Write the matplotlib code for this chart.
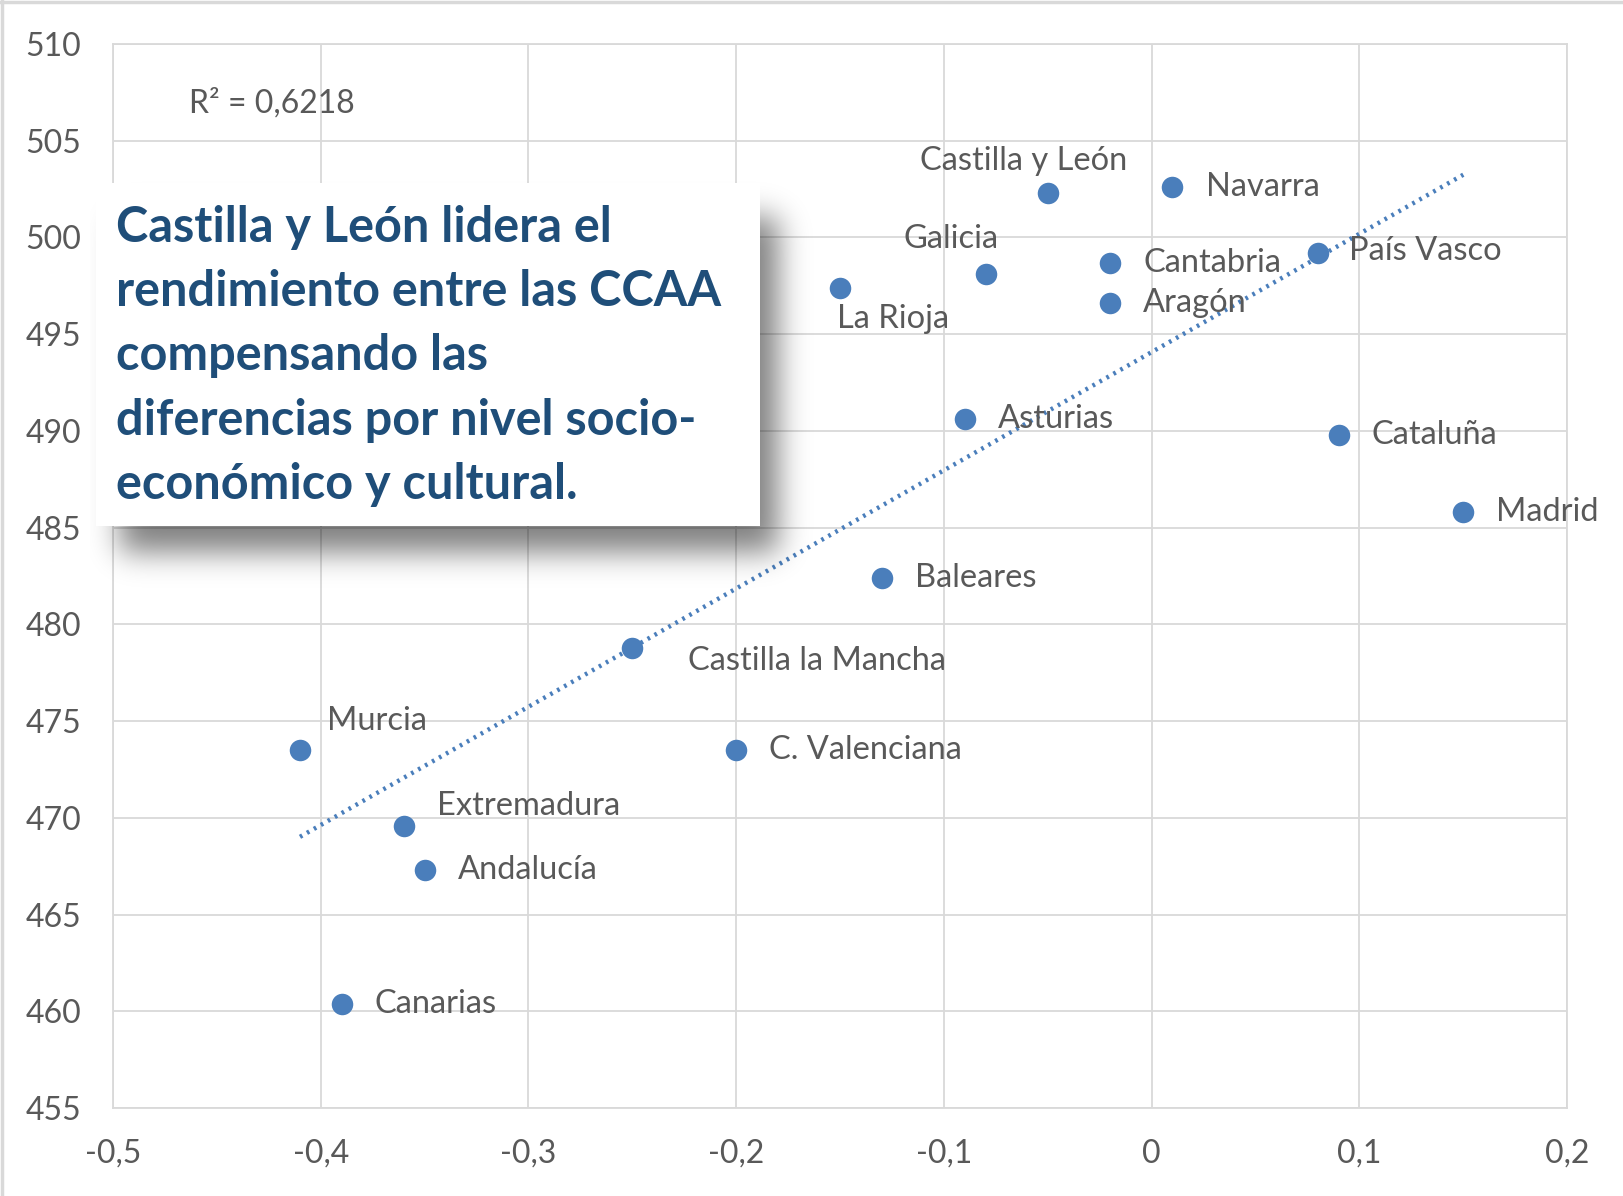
import math
import matplotlib.pyplot as plt
import numpy as np
from matplotlib.patches import Rectangle
from matplotlib.lines import Line2D
from matplotlib.ticker import FuncFormatter

plt.rcParams['font.family'] = ['Lato', 'DejaVu Sans']

regiones = ['Castilla y León', 'Navarra', 'Cantabria', 'Aragón', 'País Vasco',
            'Galicia', 'La Rioja', 'Asturias', 'Cataluña', 'Madrid', 'Baleares',
            'Castilla la Mancha', 'Murcia', 'C. Valenciana', 'Extremadura',
            'Andalucía', 'Canarias']
isec = [-0.05, 0.01, -0.02, -0.02, 0.08, -0.08, -0.15, -0.09, 0.09, 0.15, -0.13,
        -0.25, -0.41, -0.20, -0.36, -0.35, -0.39]
puntos = [502.3, 502.6, 498.7, 496.6, 499.2, 498.1, 497.4, 490.6, 489.8, 485.8,
          482.4, 478.8, 473.5, 473.5, 469.6, 467.3, 460.4]
r2_text = 'R² = 0,6218'
callout = ('Castilla y León lidera el\nrendimiento entre las CCAA\ncompensando las\n'
           'diferencias por nivel socio-\neconómico y cultural.')

# label placement (pixel offsets, alignment)
offsets = {
    'Castilla y León': (-23, 31, 'center'), 'Galicia': (-33, 34, 'center'),
    'La Rioja': (-3, -30, 'left'), 'Castilla la Mancha': (54, -13, 'left'),
    'Murcia': (26, 28, 'left'), 'Extremadura': (32, 19, 'left'),
    'País Vasco': (30, 2, 'left'),
}

blue = '#4A7EBB'
grey_txt = '#595959'
grid_c = '#D9D9D9'

W, H = 1624, 1196
fig = plt.figure(figsize=(W / 100, H / 100), dpi=100)
ax = fig.add_axes([0.0696, 0.0736, 0.8954, 0.8897])

ax.scatter(isec, puntos, s=240, color=blue, zorder=3, linewidths=0)

# linear trend line
m, b = np.polyfit(isec, puntos, 1)
xl = np.array([min(isec), max(isec)])
ax.plot(xl, m * xl + b, linestyle=(0, (0.6, 1.2)), color=blue, lw=3.2, zorder=2)

for name, x, y in zip(regiones, isec, puntos):
    dx, dy, ha = offsets.get(name, (32, 0, 'left'))
    ax.annotate(name, (x, y), xytext=(dx * 1.036, dy * 1.036), textcoords='offset pixels',
                ha=ha, va='center', fontsize=23.5, color=grey_txt, zorder=4)

ax.text(0.052, 0.944, r2_text, transform=ax.transAxes, fontsize=23, color=grey_txt,
        ha='left', va='center')

ax.set_xlim(-0.5, 0.2)
ax.set_ylim(455, 510)
ax.set_xticks(np.arange(-0.5, 0.21, 0.1))
ax.set_yticks(np.arange(455, 511, 5))
ax.xaxis.set_major_formatter(FuncFormatter(lambda v, p: ('%.1f' % v).replace('.', ',').replace('-0,0', '0').replace('0,0', '0')))
ax.grid(True, color=grid_c, lw=1.3, zorder=0)
ax.set_axisbelow(True)
for s in ax.spines.values():
    s.set_color(grid_c)
    s.set_linewidth(1.3)
ax.tick_params(length=0, labelsize=23, labelcolor=grey_txt)
ax.tick_params(axis='y', pad=23)
ax.tick_params(axis='x', pad=22)

# callout box (pixel coords, top origin) with blurred shadow
bx0, by0, bx1, by1 = 96, 183, 760, 526
sx0, sy0, sx1, sy1 = 90, 120, 860, 640
xs = np.arange(sx0, sx1) + 0.5
ys = np.arange(sy0, sy1) + 0.5
erf = np.vectorize(math.erf)
sig = 21.0
fx = 0.5 * (erf((xs - (bx0 + 24)) / sig) - erf((xs - (bx1 + 18)) / sig))
fy = 0.5 * (erf((ys - (by0 + 34)) / sig) - erf((ys - (by1 + 26)) / sig))
shadow = np.zeros((len(ys), len(xs), 4))
shadow[..., 3] = 0.5 * np.outer(fy, fx)
sax = fig.add_axes([sx0 / W, 1 - sy1 / H, (sx1 - sx0) / W, (sy1 - sy0) / H], zorder=5)
sax.imshow(shadow, aspect='auto', interpolation='bilinear')
sax.axis('off')

fig.add_artist(Rectangle((bx0 / W, 1 - by1 / H), (bx1 - bx0) / W, (by1 - by0) / H,
                         transform=fig.transFigure, facecolor='white', lw=0, zorder=6))
fig.text(0.0715, 0.7025, callout, fontsize=35, fontweight='bold', color='#1F4E79',
         ha='left', va='center', linespacing=1.52, zorder=7)

# screenshot edge lines (top and left)
fig.add_artist(Line2D([0, 1], [0.9985, 0.9985], transform=fig.transFigure,
                      color='#D9D9D9', lw=2.5, zorder=8))
fig.add_artist(Line2D([0.0015, 0.0015], [0, 1], transform=fig.transFigure,
                      color='#D9D9D9', lw=2.5, zorder=8))

fig.savefig('out.png', dpi=100)
